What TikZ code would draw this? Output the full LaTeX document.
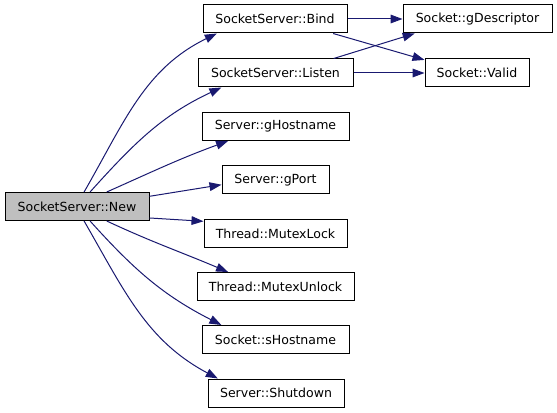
\documentclass[tikz,border=0pt]{standalone}
\usepackage{fontspec}
\setmainfont{DejaVu Sans}
\usetikzlibrary{arrows.meta}
\definecolor{edgeblue}{HTML}{191970}
\definecolor{newgrey}{HTML}{BFBFBF}
\begin{document}
\begin{tikzpicture}[x=0.75pt,y=-0.75pt,
  box/.style={draw=black, line width=0.75pt, fill=white, inner sep=0pt,
    minimum height=21pt, font=\fontsize{9.4pt}{11pt}\selectfont},
  wpx/.style={minimum width=#1*0.75pt},
  edge/.style={draw=edgeblue, line width=0.75pt,
    -{Triangle[length=9pt,width=6.5pt,fill=edgeblue]}}]
\useasboundingbox (0,0) rectangle (557,413);
\node[box, wpx=144, fill=newgrey] (new) at (77,206.5) {SocketServer::New};
\node[box, wpx=144] (bind) at (275,19) {SocketServer::Bind};
\node[box, wpx=149] (gdesc) at (477.5,19) {Socket::gDescriptor};
\node[box, wpx=155] (listen) at (275.5,73) {SocketServer::Listen};
\node[box, wpx=104] (valid) at (477,73) {Socket::Valid};
\node[box, wpx=147] (ghost) at (275.5,126.5) {Server::gHostname};
\node[box, wpx=107] (gport) at (275.5,180) {Server::gPort};
\node[box, wpx=143] (mlock) at (275.5,234) {Thread::MutexLock};
\node[box, wpx=157] (munlock) at (275.5,286.5) {Thread::MutexUnlock};
\node[box, wpx=147] (shost) at (275.5,339.5) {Socket::sHostname};
\node[box, wpx=136] (shut) at (276,393) {Server::Shutdown};

\draw[edge] (new.64) to[out=60,in=206] (bind.194);
\draw[edge] (new.48) to[out=48,in=205] (listen.195.5);
\draw[edge] (new.26) to[out=24,in=200] (ghost.197.7);
\draw[edge] (new.8.4) -- (gport.185.3);
\draw[edge] (new.351.6) -- (mlock.170.3);
\draw[edge] (new.334) to[out=-25,in=157] (munlock.163.5);
\draw[edge] (new.312) to[out=-48,in=153] (shost.165);
\draw[edge] (new.296) to[out=-60,in=152] (shut.166);

\draw[edge] (bind) -- (gdesc);
\draw[edge] (listen) -- (valid);
\draw[edge] (bind.346) -- (valid.166);
\draw[edge] (listen.14) -- (gdesc.193);
\end{tikzpicture}
\end{document}
